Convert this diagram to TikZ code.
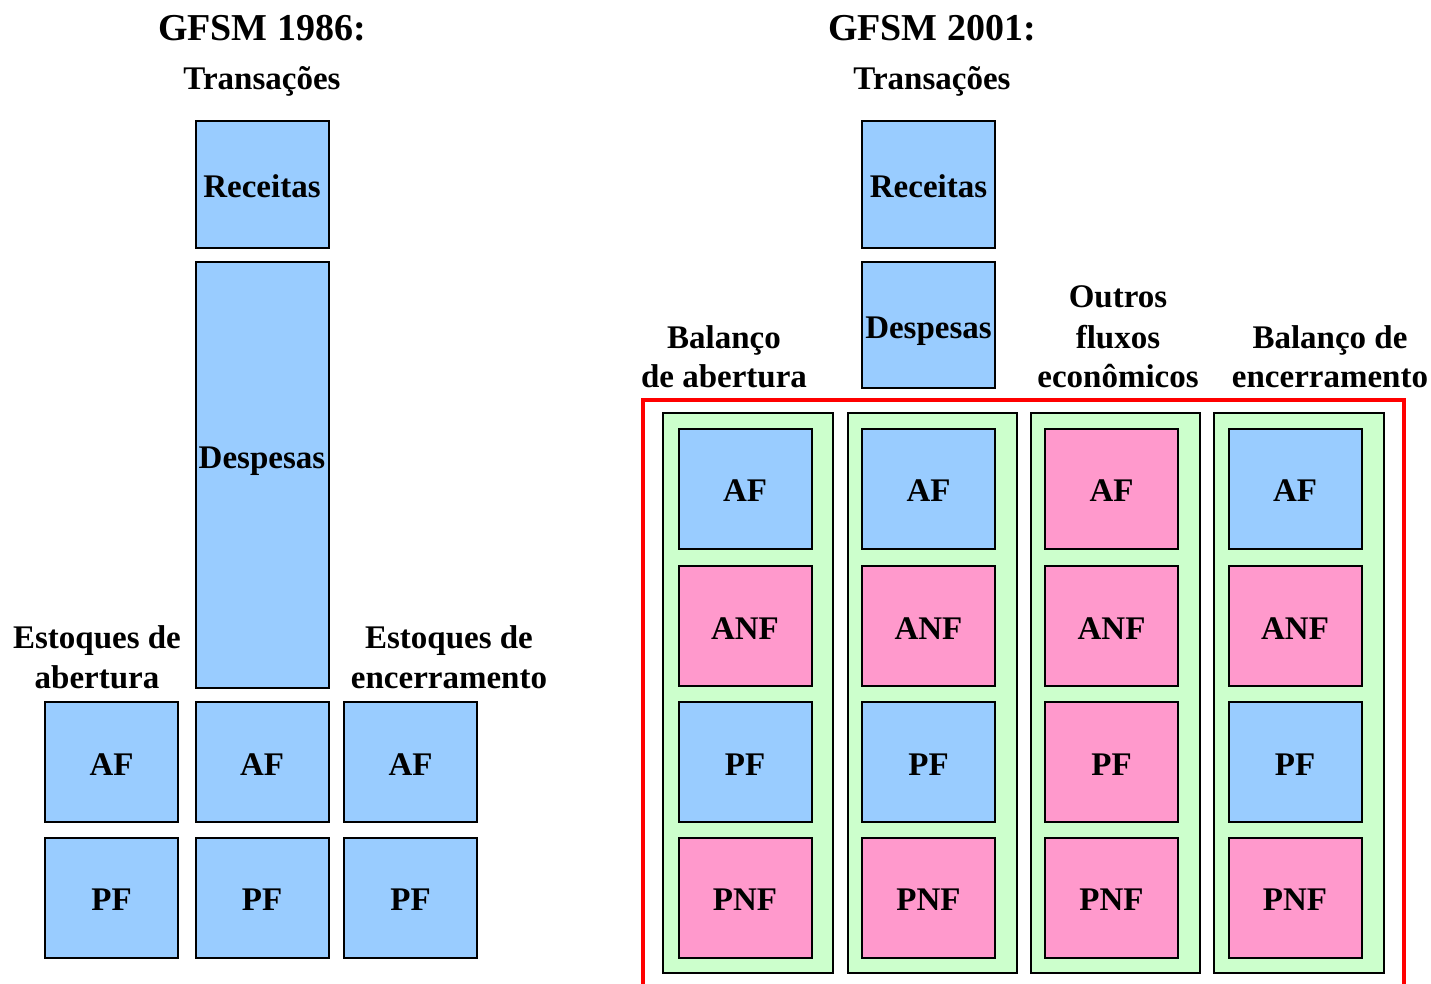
\documentclass[tikz,border=0pt]{standalone}
\usepackage{fontspec}
\setmainfont{Liberation Serif}
\usepackage{xcolor}
\usepackage{tikz}

\definecolor{caixaazul}{HTML}{99CCFF}
\definecolor{caixarosa}{HTML}{FF99CC}
\definecolor{caixaverde}{HTML}{CCFFCC}

\begin{document}
\begin{tikzpicture}[x=0.5pt,y=-0.5pt,
    caixa/.style={draw=black, line width=1pt, minimum width=66.5pt, inner sep=0pt,
      text height=13pt, text depth=0pt, font=\fontsize{16.5}{20}\selectfont\bfseries},
    azul/.style={caixa, fill=caixaazul, minimum height=60pt},
    rosa/.style={caixa, fill=caixarosa, minimum height=60pt},
    coluna/.style={draw=black, line width=1pt, fill=caixaverde},
    rotulo/.style={align=center, anchor=base, inner sep=0pt,
      font=\fontsize{16.5}{20}\selectfont\bfseries},
    titulo/.style={anchor=base, inner sep=0pt, font=\fontsize{19}{22}\selectfont\bfseries}]
  \useasboundingbox (0,0) rectangle (1431,984);

  \node[titulo] (tit86) at (262,41) {GFSM 1986:};
  \node[rotulo] (trans86) at (262,90) {Transações};
  \node[caixa, fill=caixaazul, minimum height=63.5pt] (l-rec) at (262,184.5) {Receitas};
  \node[caixa, fill=caixaazul, minimum height=213pt, text height=0pt, text depth=7pt] (l-desp) at (262,475) {Despesas};
  \node[rotulo] (l-abre) at (97,688) {Estoques de\\abertura};
  \node[rotulo] (l-fecha) at (449,688) {Estoques de\\encerramento};
  \foreach \c/\x in {1/111.5, 2/262, 3/410.5} {
    \node[azul] (l-af-\c) at (\x,762) {AF};
    \node[azul] (l-pf-\c) at (\x,897.5) {PF};
  }

  \node[titulo] (tit01) at (932,41) {GFSM 2001:};
  \node[rotulo] (trans01) at (932,90) {Transações};
  \node[caixa, fill=caixaazul, minimum height=63.5pt] (r-rec) at (928.5,184.5) {Receitas};
  \node[caixa, fill=caixaazul, minimum height=63pt, text height=14pt] (r-desp) at (928.5,325) {Despesas};
  \node[rotulo] (r-abre) at (724,388) {Balanço\\de abertura};
  \node[rotulo] (r-outros) at (1118,388) {Outros\\fluxos\\econômicos};
  \node[rotulo] (r-fecha) at (1330,388) {Balanço de\\encerramento};

  \draw[red, line width=2pt] (643,995) |- (1404,400.5) -- (1404,995);
  \foreach \xa/\xb in {663/833, 848/1017, 1031/1200, 1214/1384}
    \draw[coluna] (\xa,413) rectangle (\xb,973);
  \foreach \c/\x/\cor in {1/745/azul, 2/928.5/azul, 3/1111.5/rosa, 4/1295/azul} {
    \node[\cor] (r-af-\c) at (\x,489) {AF};
    \node[rosa] (r-anf-\c) at (\x,626) {ANF};
    \node[\cor] (r-pf-\c) at (\x,762) {PF};
    \node[rosa] (r-pnf-\c) at (\x,897.5) {PNF};
  }
\end{tikzpicture}
\end{document}
